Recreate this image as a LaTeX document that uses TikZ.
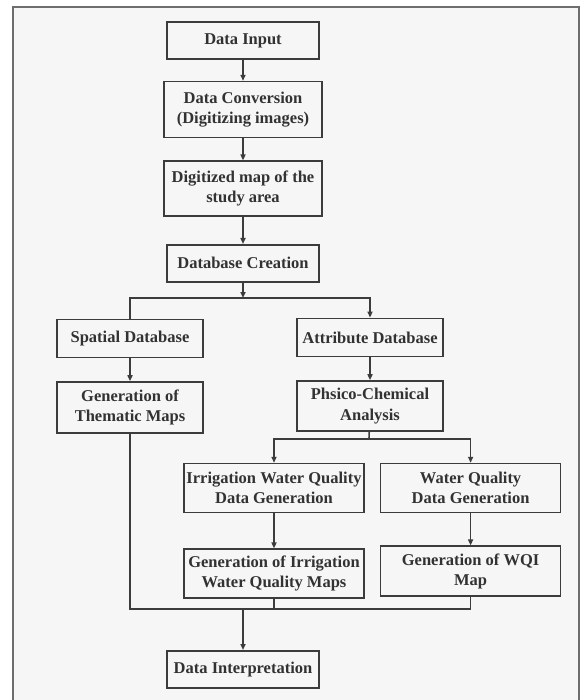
\documentclass[tikz,border=0pt]{standalone}
\usepackage{fontspec}
\setmainfont{Liberation Serif}
\usetikzlibrary{arrows.meta, positioning}
\definecolor{framegray}{RGB}{110, 110, 110}
\definecolor{linegray}{RGB}{60, 60, 60}
\definecolor{textgray}{RGB}{50, 50, 50}
\definecolor{paper}{RGB}{246, 246, 246}

\begin{document}
\begin{tikzpicture}[
  x=1pt, y=-1pt,
  box/.style  = {rectangle, draw=linegray, line width=1.6pt, text=textgray,
                 align=center, inner sep=0pt,
                 font=\fontsize{16.5}{20.5}\selectfont\bfseries},
  arr/.style  = {-{Triangle[length=6pt, width=5pt]}, line width=1.6pt, draw=linegray},
  link/.style = {line width=1.6pt, draw=linegray}
]
\useasboundingbox (0,0) rectangle (581,700);
\fill[paper] (13,7) rectangle (579,700);
\draw[framegray, line width=2.4pt] (13,700) -- (13,7) -- (579,7) -- (579,700);

% main column
\node[box, minimum width=152pt, minimum height=37pt] (din) at (243,40.5) {Data Input};
\node[box, minimum width=158pt, minimum height=56pt, below=21pt of din]  (dconv) {Data Conversion\\(Digitizing images)};
\node[box, minimum width=158pt, minimum height=55pt, below=22pt of dconv] (dmap)  {Digitized map of the\\study area};
\node[box, minimum width=152pt, minimum height=37pt, below=27pt of dmap]  (dbc)   {Database Creation};

% two databases
\node[box, minimum width=146pt, minimum height=38pt, below=36pt of dbc, xshift=-113pt] (sdb)  {Spatial Database};
\node[box, minimum width=146pt, minimum height=38pt, below=35pt of dbc, xshift=127pt]  (adb)  {Attribute Database};
\node[box, minimum width=146pt, minimum height=51pt, below=23pt of sdb] (tmap) {Generation of\\Thematic Maps};
\node[box, minimum width=146pt, minimum height=50pt, below=23pt of adb] (pca)  {Phsico-Chemical\\Analysis};

% water quality branch
\node[box, minimum width=180pt, minimum height=49pt, below=31pt of pca, xshift=-96pt] (iwq)  {Irrigation Water Quality\\Data Generation};
\node[box, minimum width=180pt, minimum height=49pt, right=15pt of iwq]               (wqd)  {Water Quality\\Data Generation};
\node[box, minimum width=180pt, minimum height=49pt, below=35pt of iwq]               (imap) {Generation of Irrigation\\Water Quality Maps};
\node[box, minimum width=180pt, minimum height=50pt, below=32pt of wqd]               (wqi)  {Generation of WQI\\Map};

\node[box, minimum width=152pt, minimum height=37pt, below=51pt of imap, xshift=-31pt] (dint) {Data Interpretation};

% junctions
\coordinate (j1) at (243,298);
\coordinate (j2) at (369,439);
\coordinate (j3) at (243,609);

\draw[arr]  (din)   -- (dconv);
\draw[arr]  (dconv) -- (dmap);
\draw[arr]  (dmap)  -- (dbc);
\draw[arr]  (dbc)   -- (j1);
\draw[link] (j1)    -| (sdb);
\draw[arr]  (j1)    -| (adb);
\draw[arr]  (sdb)   -- (tmap);
\draw[arr]  (adb)   -- (pca);
\draw[link] (pca)   -- (j2);
\draw[arr]  (j2)    -| (iwq);
\draw[arr]  (j2)    -| (wqd);
\draw[arr]  (iwq)   -- (imap);
\draw[arr]  (wqd)   -- (wqi);
\draw[link] (tmap)  |- (wqi |- j3) -- (wqi);
\draw[link] (imap)  -- (imap |- j3);
\draw[arr]  (j3)    -- (dint);
\end{tikzpicture}
\end{document}
